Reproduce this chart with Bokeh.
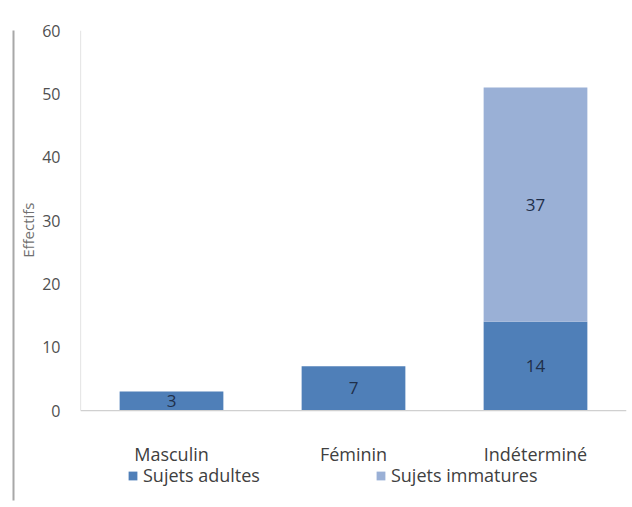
import numpy as np
from bokeh.plotting import figure
from bokeh.models import (ColumnDataSource, Legend, LegendItem, Range1d, FixedTicker,
                          Title, LinearAxis)
from bokeh.embed import file_html
from bokeh.resources import INLINE
from bokeh.core.properties import value

categories = ["Masculin", "Féminin", "Indéterminé"]
adultes = [3, 7, 14]
immatures = [0, 0, 37]
series_names = ["Sujets adultes", "Sujets immatures"]
y_ticks = [0, 10, 20, 30, 40, 50, 60]
y_title = "Effectifs"

dark = "#4F7FB8"
light = "#9AB0D6"
font = "Open Sans"

xpos = [i + 0.5 for i in range(len(categories))]
src = ColumnDataSource(dict(x=xpos, cat=categories, adultes=adultes, immatures=immatures))

p = figure(x_range=Range1d(0, len(categories)), y_range=Range1d(-14.2, 60),
           width=632, height=507, output_backend="svg", toolbar_location=None,
           min_border_left=80, min_border_right=6, min_border_top=30, min_border_bottom=7)

rs = p.vbar_stack(["adultes", "immatures"], x="x", width=0.57, source=src,
                  color=[dark, light], line_color=None)

# axis lines (only over the value range)
p.segment(x0=[0, 0], y0=[0, 0], x1=[0, len(categories)], y1=[y_ticks[-1], 0],
          line_color="#D0D0D0", line_width=1.2)

# category labels
p.text(x="x", y=0, text="cat", source=src, y_offset=43, text_align="center",
       text_baseline="middle", text_font=value(font), text_font_size="18px",
       text_color="#404040")

# data labels
lab_x, lab_y, lab_t = [], [], []
for xx, a, im in zip(xpos, adultes, immatures):
    lab_x.append(xx); lab_y.append(a / 2); lab_t.append(str(a))
    if im > 0:
        lab_x.append(xx); lab_y.append(a + im / 2); lab_t.append(str(im))
p.text(x=lab_x, y=lab_y, text=lab_t, text_align="center", text_baseline="middle",
       text_font=value(font), text_font_size="17px", text_color="#1F2F4A")

p.xgrid.visible = False
p.ygrid.visible = False
p.xaxis.visible = False
p.outline_line_color = None

p.yaxis.ticker = FixedTicker(ticks=y_ticks)
p.yaxis.axis_line_color = None
p.yaxis.major_tick_line_color = None
p.yaxis.minor_tick_line_color = None
p.yaxis.major_label_text_font = font
p.yaxis.major_label_text_font_size = "16px"
p.yaxis.major_label_text_color = "#505050"
p.yaxis.major_label_standoff = 14

p.add_layout(Title(text=y_title, align="right", offset=172, text_font=font,
                   text_font_size="15px", text_font_style="normal",
                   text_color="#707070", standoff=4), "left")

border = LinearAxis(ticker=FixedTicker(ticks=[]), axis_line_color="#A8A8A8",
                    axis_line_width=2, major_tick_line_color=None,
                    minor_tick_line_color=None)
p.add_layout(border, "left")

legend = Legend(items=[LegendItem(label=series_names[0], renderers=[rs[0]]),
                       LegendItem(label=series_names[1], renderers=[rs[1]])],
                orientation="horizontal", location=(47, 13),
                label_text_font=font, label_text_font_size="18px", label_text_color="#404040",
                glyph_width=11, glyph_height=11, label_standoff=5, spacing=115,
                padding=0, margin=0, border_line_color=None, background_fill_alpha=0)
p.add_layout(legend)

open("out.html", "w").write(file_html(p, INLINE))
